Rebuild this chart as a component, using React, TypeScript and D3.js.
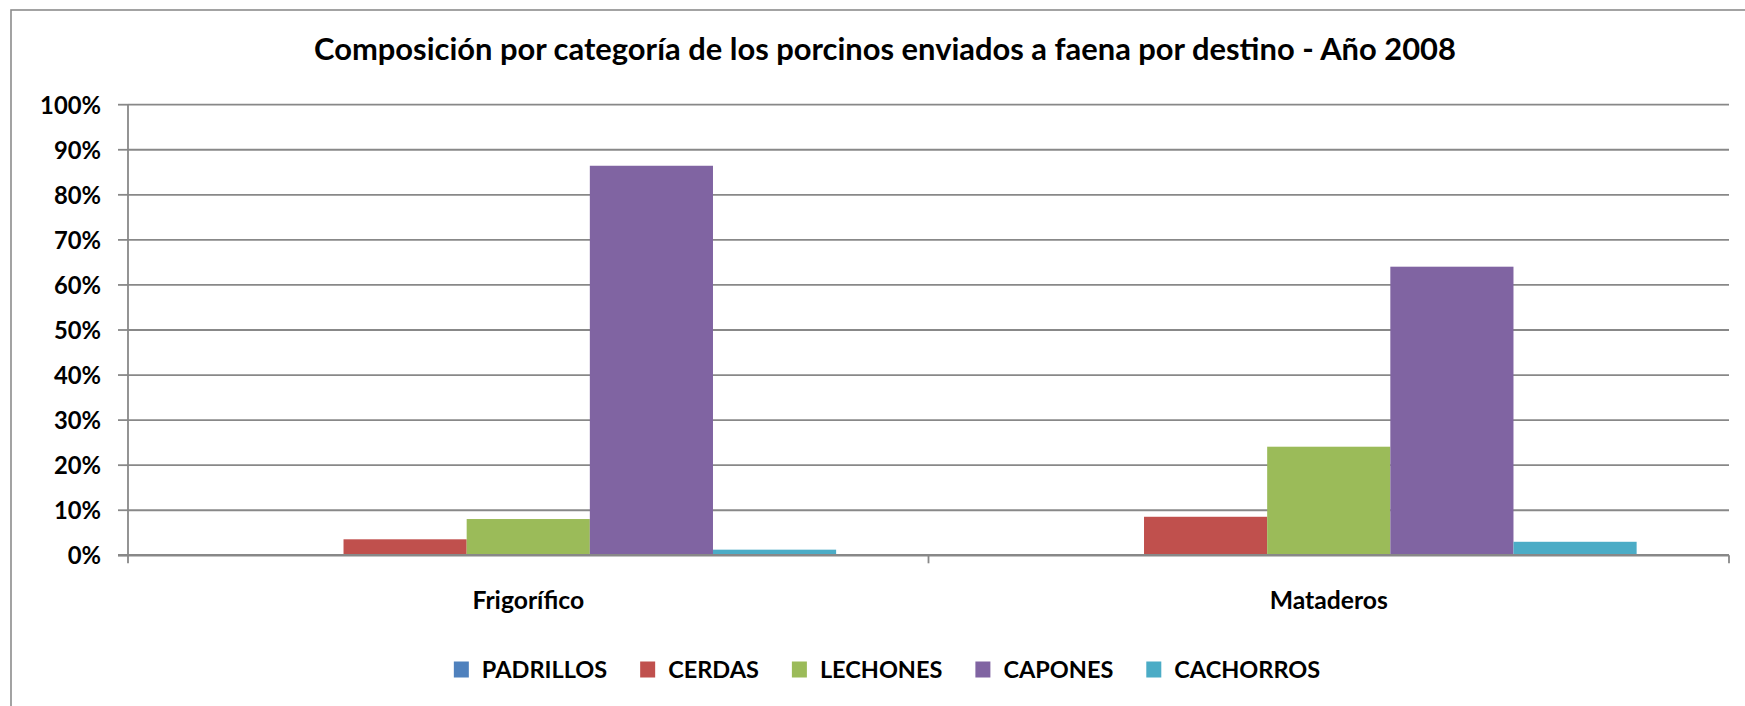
import React from "react";
import * as d3 from "d3";

const categories = ["Frigorífico", "Mataderos"];
const seriesNames = ["PADRILLOS", "CERDAS", "LECHONES", "CAPONES", "CACHORROS"];
const seriesColors = ["#4F81BD", "#C0504D", "#9BBB59", "#8064A2", "#4BACC6"];
// values in %, one array per series: [Frigorífico, Mataderos]
const padrillos = [0, 0];
const cerdas = [3.55, 8.55];
const lechones = [8.05, 24.1];
const capones = [86.45, 64.05];
const cachorros = [1.25, 3.0];
const seriesValues = [padrillos, cerdas, lechones, capones, cachorros];
const yTicks = [0, 10, 20, 30, 40, 50, 60, 70, 80, 90, 100];
const title = "Composición por categoría de los porcinos enviados a faena por destino - Año 2008";

const W = 1745;
const H = 706;
const FONT = "Lato, 'Open Sans', sans-serif";

function measure(text: string, font: string): number {
  const c = document.createElement("canvas");
  const ctx = c.getContext("2d");
  if (!ctx) return text.length * 10;
  ctx.font = font;
  return ctx.measureText(text).width;
}

export default function App() {
  const left = 128;
  const right = 1729;
  const top = 104.7;
  const bottom = 555.3;

  const x0 = d3.scaleBand<string>().domain(categories).range([left, right]).padding(0);
  const x1 = d3
    .scaleBand<string>()
    .domain(seriesNames)
    .range([0, x0.bandwidth()])
    .paddingInner(0)
    .paddingOuter(0.75);
  const y = d3.scaleLinear().domain([0, 100]).range([bottom, top]);

  const tickSize = 23.8;
  const catSize = 24.7;
  const legendSize = 23.5;
  const legendFont = `bold ${legendSize}px Lato`;
  const sq = 15;
  const sqGap = 13;
  const itemGap = 33;
  const widths = seriesNames.map((s) => measure(s, legendFont));
  const total =
    widths.reduce((a, b) => a + b, 0) + seriesNames.length * (sq + sqGap) + (seriesNames.length - 1) * itemGap;
  let cursor = 887 - total / 2;
  const legendItems = seriesNames.map((s, i) => {
    const item = { name: s, color: seriesColors[i], x: cursor };
    cursor += sq + sqGap + widths[i] + itemGap;
    return item;
  });

  const gridColor = "#888888";

  return (
    <svg
      width={W}
      height={H}
      style={{ position: "absolute", left: 0, top: 0, background: "#fff" }}
      fontFamily={FONT}
    >
      <rect x={0} y={0} width={W} height={H} fill="#ffffff" />
      <rect x={11} y={10} width={W + 20} height={H + 20} fill="none" stroke="#8c8c8c" strokeWidth={1.6} />

      <text x={885} y={60} textAnchor="middle" fontWeight="bold" fontSize={30.9} fill="#000">
        {title}
      </text>

      {yTicks.filter((t) => t > 0).map((t) => (
        <line key={"g" + t} x1={left} x2={right} y1={y(t)} y2={y(t)} stroke={gridColor} strokeWidth={1.8} />
      ))}

      {yTicks.map((t) => (
        <g key={"t" + t}>
          <line x1={left - 10} x2={left} y1={y(t)} y2={y(t)} stroke={gridColor} strokeWidth={1.8} />
          <text
            x={101}
            y={y(t)}
            dy="0.38em"
            textAnchor="end"
            fontWeight="bold"
            fontSize={tickSize}
            fill="#000"
          >
            {t + "%"}
          </text>
        </g>
      ))}

      {categories.map((c, ci) => (
        <g key={c}>
          {seriesNames.map((s, si) => {
            const v = seriesValues[si][ci];
            const bx = (x0(c) || 0) + (x1(s) || 0);
            return (
              <rect
                key={s}
                x={bx}
                y={y(v)}
                width={x1.bandwidth()}
                height={bottom - y(v)}
                fill={seriesColors[si]}
              />
            );
          })}
          <text
            x={(x0(c) || 0) + x0.bandwidth() / 2}
            y={608.5}
            textAnchor="middle"
            fontWeight="bold"
            fontSize={catSize}
            fill="#000"
          >
            {c}
          </text>
        </g>
      ))}

      <line x1={left} x2={left} y1={top} y2={bottom} stroke={gridColor} strokeWidth={1.8} />
      <line x1={left - 10} x2={right} y1={bottom} y2={bottom} stroke={gridColor} strokeWidth={2.6} />
      {[left, x0("Mataderos") || 0, right].map((tx, i) => (
        <line key={"xt" + i} x1={tx} x2={tx} y1={bottom} y2={bottom + 8} stroke={gridColor} strokeWidth={1.8} />
      ))}

      {legendItems.map((it) => (
        <g key={it.name}>
          <rect x={it.x} y={661.5} width={sq} height={16} fill={it.color} />
          <text x={it.x + sq + sqGap} y={678} fontWeight="bold" fontSize={legendSize} fill="#000">
            {it.name}
          </text>
        </g>
      ))}
    </svg>
  );
}
